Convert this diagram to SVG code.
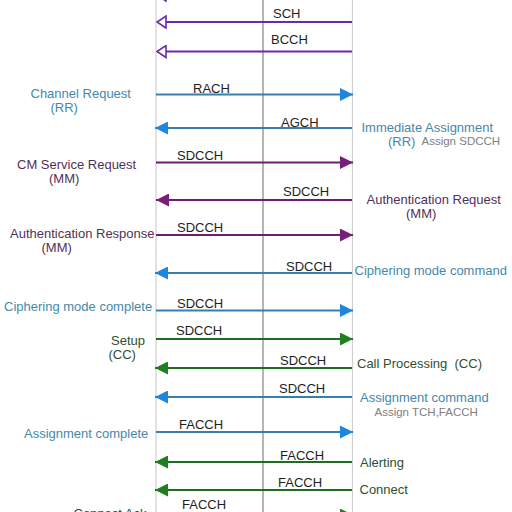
<svg xmlns="http://www.w3.org/2000/svg" width="512" height="512" viewBox="0 0 512 512">
<style>
text{font-family:"Liberation Sans",Arial,sans-serif;font-size:13px}
.ch{fill:#1e1e1e}
.sm{font-size:11.5px;fill:#808080}
.tb{fill:#4688a8}
.tp{fill:#553055}
.tg{fill:#2f4f2f}
.life{stroke:#cfcfcf;stroke-width:1.2}
.mid{stroke:#b4b4b4;stroke-width:2}
.v{stroke:#6a2ab0;stroke-width:2;fill:none}
.p{stroke:#6e1e6e;stroke-width:2;fill:none}
.b{stroke:#3580ad;stroke-width:2;fill:none}
.g{stroke:#1f6e1f;stroke-width:2;fill:none}
</style>
<defs>
<marker id="mv" markerUnits="userSpaceOnUse" markerWidth="12" markerHeight="14" refX="11" refY="7" orient="auto" viewBox="0 0 12 14"><path d="M2,1 L11,7 L2,13 z" fill="#fff" stroke="#6a2ab0" stroke-width="1.6"/></marker>
<marker id="mp" markerUnits="userSpaceOnUse" markerWidth="13" markerHeight="13" refX="13" refY="6.5" orient="auto" viewBox="0 0 13 13"><path d="M0,0 L13,6.5 L0,13 z" fill="#7a1e7a"/></marker>
<marker id="mb" markerUnits="userSpaceOnUse" markerWidth="13" markerHeight="13" refX="13" refY="6.5" orient="auto" viewBox="0 0 13 13"><path d="M0,0 L13,6.5 L0,13 z" fill="#1e86e0"/></marker>
<marker id="mg" markerUnits="userSpaceOnUse" markerWidth="13" markerHeight="13" refX="13" refY="6.5" orient="auto" viewBox="0 0 13 13"><path d="M0,0 L13,6.5 L0,13 z" fill="#1d7f1d"/></marker>
</defs>
<rect width="512" height="512" fill="#fff"/>
<g id="lifelines">
<line id="ms" class="life" x1="156" y1="0" x2="156" y2="512"/>
<line id="bts" class="mid" x1="263" y1="0" x2="263" y2="512"/>
<line id="bsc" class="life" x1="352.5" y1="0" x2="352.5" y2="512"/>
</g>
<g id="connectors">
<line class="v" x1="352" y1="-5" x2="157" y2="-5" marker-end="url(#mv)"/>
<line class="v" x1="352" y1="22" x2="157" y2="22" marker-end="url(#mv)"/>
<line class="v" x1="352" y1="51.5" x2="157" y2="51.5" marker-end="url(#mv)"/>
<line class="b" x1="156" y1="94.5" x2="353" y2="94.5" marker-end="url(#mb)"/>
<line class="b" x1="352" y1="128" x2="155" y2="128" marker-end="url(#mb)"/>
<line class="p" x1="156" y1="162.5" x2="353" y2="162.5" marker-end="url(#mp)"/>
<line class="p" x1="352" y1="200" x2="156" y2="200" marker-end="url(#mp)"/>
<line class="p" x1="156" y1="235" x2="353" y2="235" marker-end="url(#mp)"/>
<line class="b" x1="352" y1="273" x2="155" y2="273" marker-end="url(#mb)"/>
<line class="b" x1="156" y1="310.5" x2="353" y2="310.5" marker-end="url(#mb)"/>
<line class="g" x1="156" y1="339" x2="353" y2="339" marker-end="url(#mg)"/>
<line class="g" x1="352" y1="368" x2="155" y2="368" marker-end="url(#mg)"/>
<line class="b" x1="352" y1="397" x2="155" y2="397" marker-end="url(#mb)"/>
<line class="b" x1="156" y1="432" x2="353" y2="432" marker-end="url(#mb)"/>
<line class="g" x1="352" y1="462" x2="155" y2="462" marker-end="url(#mg)"/>
<line class="g" x1="352" y1="490" x2="155" y2="490" marker-end="url(#mg)"/>
<line class="g" x1="156" y1="515" x2="353" y2="515" marker-end="url(#mg)"/>
</g>
<g id="channel-labels">
<text class="ch" x="273" y="18">SCH</text>
<text class="ch" x="271" y="44">BCCH</text>
<text class="ch" x="193" y="93">RACH</text>
<text class="ch" x="281" y="127">AGCH</text>
<text class="ch" x="177" y="160">SDCCH</text>
<text class="ch" x="283" y="196">SDCCH</text>
<text class="ch" x="177" y="232">SDCCH</text>
<text class="ch" x="286" y="271">SDCCH</text>
<text class="ch" x="177" y="308">SDCCH</text>
<text class="ch" x="176" y="334.5">SDCCH</text>
<text class="ch" x="280" y="364.5">SDCCH</text>
<text class="ch" x="279" y="393">SDCCH</text>
<text class="ch" x="179" y="428.5">FACCH</text>
<text class="ch" x="280" y="459.5">FACCH</text>
<text class="ch" x="278" y="486.5">FACCH</text>
<text class="ch" x="182" y="508.5">FACCH</text>
</g>
<g id="msg-channel-request"><text class="tb" x="30.5" y="97.5">Channel Request</text><text class="tb" x="50.5" y="111.5">(RR)</text></g>
<g id="msg-immediate-assignment"><text class="tb" x="361.5" y="131.5">Immediate Assignment</text><text class="tb" x="388" y="145.5">(RR)</text><text class="sm" x="421.5" y="145">Assign SDCCH</text></g>
<g id="msg-cm-service-request"><text class="tp" x="17" y="169">CM Service Request</text><text class="tp" x="49" y="183">(MM)</text></g>
<g id="msg-authentication-request"><text class="tp" x="366.5" y="204">Authentication Request</text><text class="tp" x="406" y="218">(MM)</text></g>
<g id="msg-authentication-response"><text class="tp" x="10" y="238">Authentication Response</text><text class="tp" x="41.5" y="252">(MM)</text></g>
<g id="msg-ciphering-mode-command"><text class="tb" x="354.5" y="275">Ciphering mode command</text></g>
<g id="msg-ciphering-mode-complete"><text class="tb" x="4" y="310.5">Ciphering mode complete</text></g>
<g id="msg-setup"><text class="tg" x="111" y="344.5">Setup</text><text class="tg" x="108.5" y="358.5">(CC)</text></g>
<g id="msg-call-processing"><text class="tg" x="357" y="368" xml:space="preserve">Call Processing  (CC)</text></g>
<g id="msg-assignment-command"><text class="tb" x="360" y="402">Assignment command</text><text class="sm" x="374.5" y="415.5">Assign TCH,FACCH</text></g>
<g id="msg-assignment-complete"><text class="tb" x="24" y="437.5">Assignment complete</text></g>
<g id="msg-alerting"><text class="tg" x="360" y="466.5">Alerting</text></g>
<g id="msg-connect"><text class="tg" x="359.5" y="493.5">Connect</text></g>
<g id="msg-connect-ack"><text class="tg" x="73.5" y="517.5">Connect Ack</text></g>
</svg>
